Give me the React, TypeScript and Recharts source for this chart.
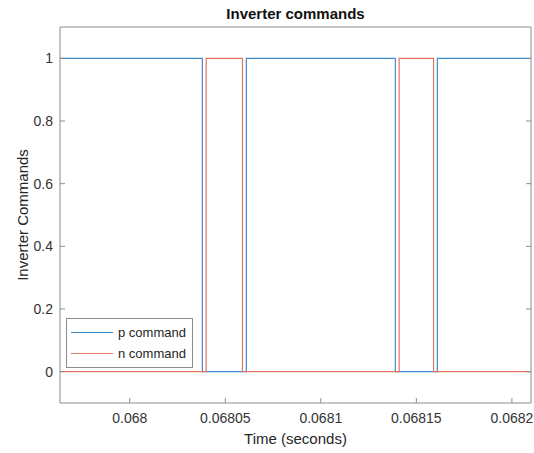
import React from 'react'
import { LineChart, Line, XAxis, YAxis, Legend } from 'recharts'

// switching instants (s) and levels for both gate commands
const pTime = [0.0679635, 0.068038, 0.068061, 0.068139, 0.068161, 0.06821]
const pValue = [1, 0, 1, 0, 1, 1]
const nTime = [0.0679635, 0.06804, 0.068059, 0.068141, 0.068159, 0.06821]
const nValue = [0, 1, 0, 1, 0, 0]

const seriesNames = ['p command', 'n command']
const xTicks = [0.068, 0.06805, 0.0681, 0.06815, 0.0682]
const yTicks = [0, 0.2, 0.4, 0.6, 0.8, 1]
const xDomain = [0.0679635, 0.06821]
const yDomain = [-0.1, 1.1]

const pData = pTime.map((t, i) => ({ t, v: pValue[i] }))
const nData = nTime.map((t, i) => ({ t, v: nValue[i] }))

const FONT = '"Liberation Sans", Arial, Helvetica, sans-serif'
const AXIS = '#8c8c8c'
const tickStyle = { fontSize: 14, fill: '#333', fontFamily: FONT }

function MatlabLegend({ payload }: any) {
  const items = [...(payload || [])].sort((a: any, b: any) => seriesNames.indexOf(a.value) - seriesNames.indexOf(b.value))
  return (
    <div style={{ border: '1px solid #8c8c8c', background: '#fff', padding: '3px 6px 3px 4px', fontFamily: FONT, fontSize: 13, color: '#262626' }}>
      {items.map((p: any) => (
        <div key={p.value} style={{ display: 'flex', alignItems: 'center', height: 21 }}>
          <span style={{ display: 'inline-block', width: 42, height: 0, borderTop: `1px solid ${p.color}`, marginRight: 5 }} />
          {p.value}
        </div>
      ))}
    </div>
  )
}

export default function App() {
  return (
    <div style={{ position: 'fixed', left: 0, top: 0, width: 534, height: 453, background: '#fff', overflow: 'hidden' }}>
      <div style={{ position: 'absolute', left: 60, width: 471, top: 5, textAlign: 'center', fontFamily: FONT, fontWeight: 'bold', fontSize: 15, color: '#111' }}>
        Inverter commands
      </div>
      <LineChart width={534} height={453} margin={{ top: 0, right: 0, bottom: 0, left: 0 }}>
        <XAxis
          dataKey="t" type="number" domain={xDomain} ticks={xTicks} allowDataOverflow interval={0}
          height={50} stroke={AXIS} tickSize={-5} tickMargin={15}
          tick={tickStyle} tickFormatter={(v: number) => String(v)}
          label={{ value: 'Time (seconds)', position: 'insideBottom', offset: 9, style: { fontSize: 15, fill: '#262626', fontFamily: FONT } }}
        />
        <XAxis
          xAxisId="top" orientation="top" type="number" domain={xDomain} ticks={xTicks} allowDataOverflow interval={0}
          height={27} stroke={AXIS} tickSize={-5} tickFormatter={() => ''}
        />
        <YAxis
          type="number" domain={yDomain} ticks={yTicks} allowDataOverflow interval={0}
          width={60} stroke={AXIS} tickSize={-5} tickMargin={12}
          tick={tickStyle} tickFormatter={(v: number) => String(v)}
          label={{ value: 'Inverter Commands', angle: -90, position: 'center', dx: -7, style: { fontSize: 15, fill: '#262626', fontFamily: FONT, textAnchor: 'middle' } }}
        />
        <YAxis
          yAxisId="right" orientation="right" type="number" domain={yDomain} ticks={yTicks} allowDataOverflow interval={0}
          width={3} stroke={AXIS} tickSize={-5} tickFormatter={() => ''}
        />
        <Line data={pData} dataKey="v" name={seriesNames[0]} type="stepAfter" stroke="#3f8ccc" strokeWidth={1.2} dot={false} isAnimationActive={false} />
        <Line data={nData} dataKey="v" name={seriesNames[1]} type="stepAfter" stroke="#e2765e" strokeWidth={1.2} dot={false} isAnimationActive={false} />
        <Legend
          content={<MatlabLegend />} layout="horizontal" verticalAlign="middle"
          wrapperStyle={{ position: 'absolute', left: 66, top: 318, width: 'auto' }}
        />
      </LineChart>
    </div>
  )
}
